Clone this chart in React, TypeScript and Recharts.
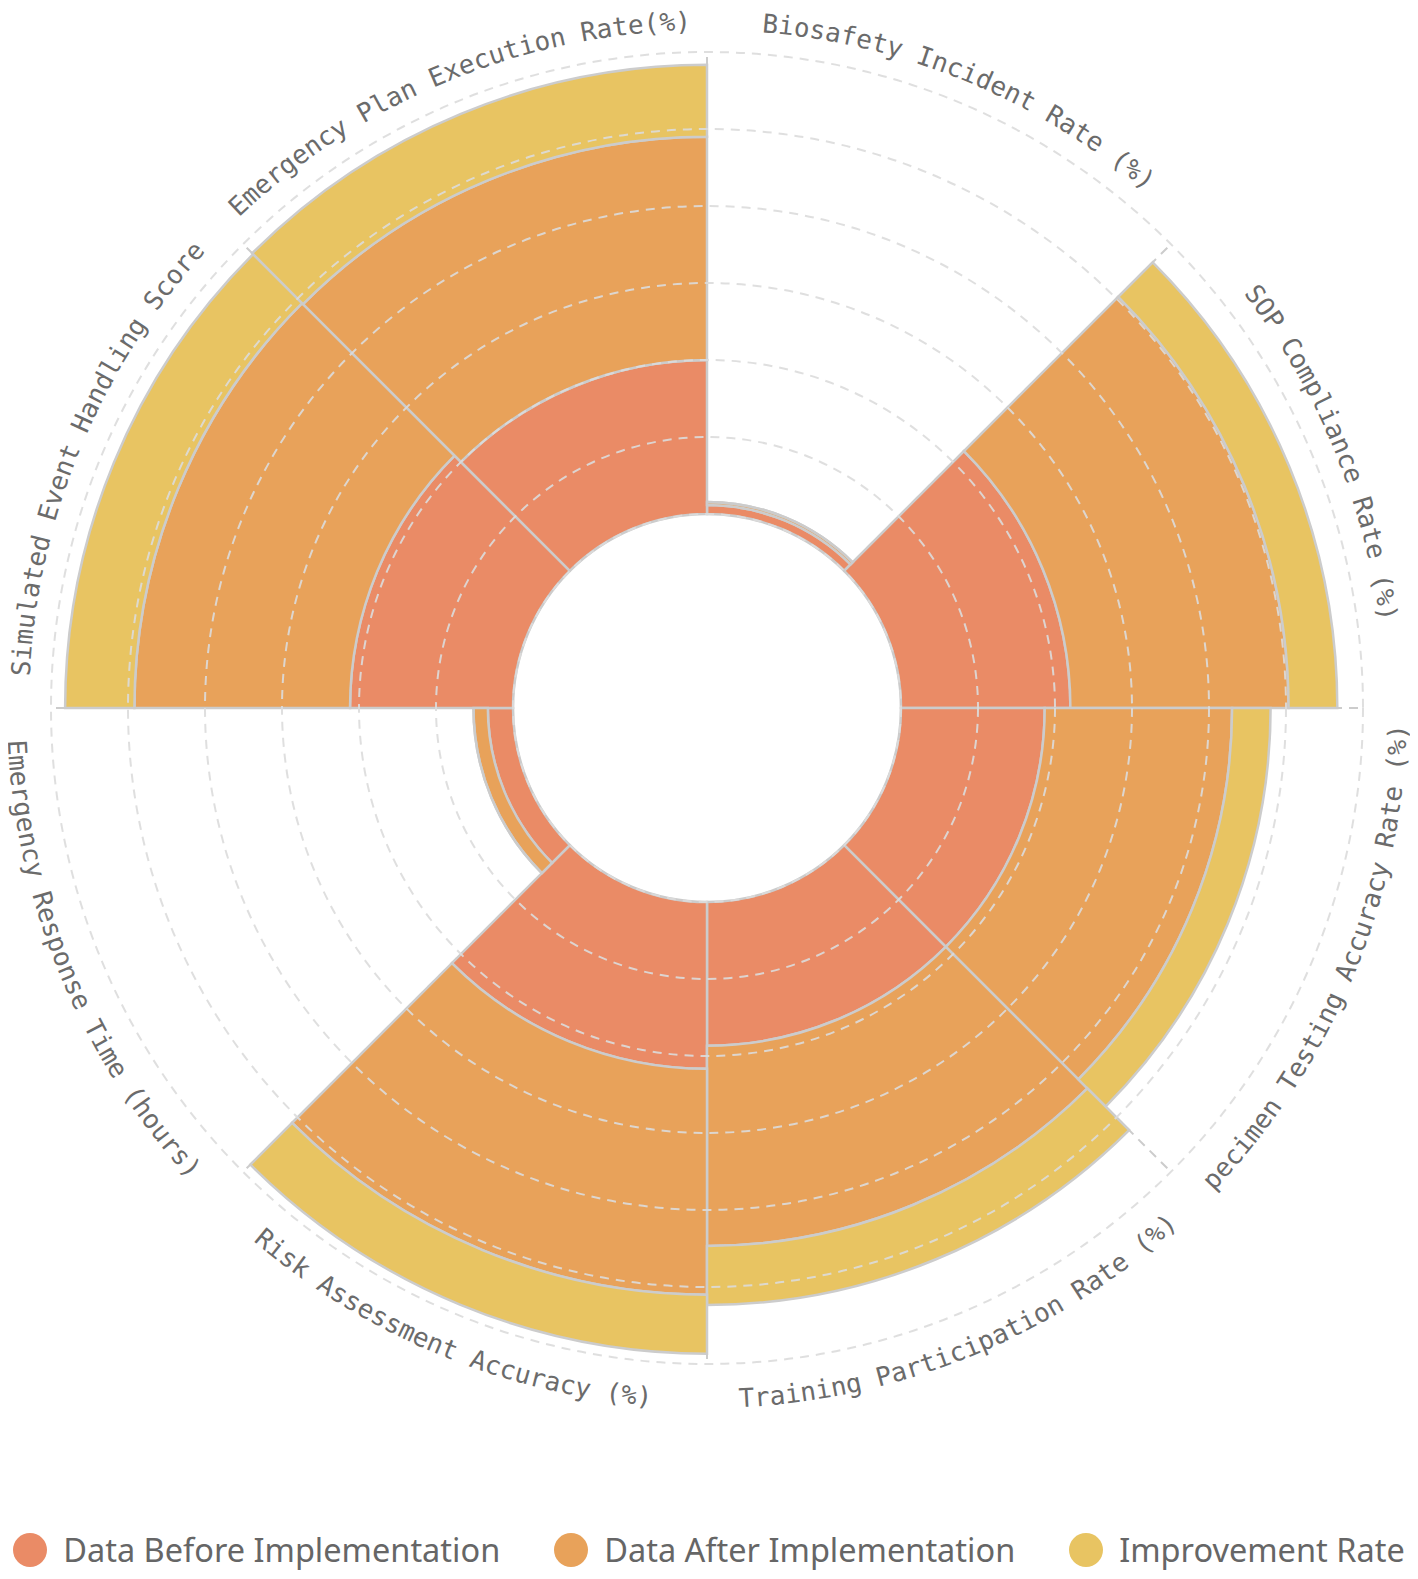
import React from 'react';
import {
  RadialBarChart,
  RadialBar,
  PolarAngleAxis,
  PolarRadiusAxis,
  PolarGrid,
  Legend,
} from 'recharts';

const categories = [
  'Biosafety Incident Rate (%)',
  'SOP Compliance Rate (%)',
  'pecimen Testing Accuracy Rate (%)',
  'Training Participation Rate (%)',
  'Risk Assessment Accuracy (%)',
  'Emergency Response Time (hours)',
  'Simulated Event Handling Score',
  'Emergency Plan Execution Rate(%)',
];
const beforeValues = [3.5, 66, 56, 56, 65, 9.8, 63.5, 60];
const afterValues = [1.2, 85, 73, 78, 88, 5.6, 84, 87];
const improvementValues = [0, 19, 15, 23, 23, 0, 27, 28];
const radiusDomain = [0, 180];
const seriesKeys = ['before', 'after', 'improvement'];
const seriesNames = ['Data Before Implementation', 'Data After Implementation', 'Improvement Rate'];
const seriesColors = ['#EA8B66', '#E8A25A', '#E8C462'];

const data = categories.map((name, i) => ({
  name,
  before: beforeValues[i],
  after: afterValues[i],
  improvement: improvementValues[i],
}));

const W = 1402;
const H = 1571;
const CX = 699;
const CY = 700;
const INNER = 194;
const OUTER = 656;

const boundaryAngles = categories.map((_, i) => 90 - (i * 360) / categories.length);

function arcPoint(cx: number, cy: number, r: number, deg: number) {
  const a = (deg * Math.PI) / 180;
  return [cx + r * Math.sin(a), cy - r * Math.cos(a)];
}

const AngleTick = (props: any) => {
  const value = props.payload?.value;
  const i = categories.indexOf(value);
  if (i < 0) return null;
  const cx = CX;
  const cy = CY;
  const mid = ((i + 0.5) * 360) / categories.length;
  const upper = mid < 90 || mid > 270;
  const r = upper ? 678 : 700;
  const span = 85;
  let d: string;
  if (upper) {
    const [x1, y1] = arcPoint(cx, cy, r, mid - span);
    const [x2, y2] = arcPoint(cx, cy, r, mid + span);
    d = `M${x1},${y1} A${r},${r} 0 0 1 ${x2},${y2}`;
  } else {
    const [x1, y1] = arcPoint(cx, cy, r, mid + span);
    const [x2, y2] = arcPoint(cx, cy, r, mid - span);
    d = `M${x1},${y1} A${r},${r} 0 0 0 ${x2},${y2}`;
  }
  const id = `angle-label-path-${i}`;
  return (
    <g>
      <defs>
        <path id={id} d={d} fill="none" />
      </defs>
      <text fontFamily="'DejaVu Sans Mono', monospace" fontSize={26} fill="#6b6b6b">
        <textPath href={`#${id}`} startOffset="50%" textAnchor="middle">
          {value}
        </textPath>
      </text>
    </g>
  );
};

const renderLegend = () => (
  <div
    style={{
      display: 'flex',
      justifyContent: 'center',
      alignItems: 'center',
      gap: 54,
      fontFamily: "'Noto Sans', sans-serif",
      fontSize: 32.5,
      color: '#666',
      whiteSpace: 'nowrap',
    }}
  >
    {seriesNames.map((n, i) => (
      <div key={n} style={{ display: 'flex', alignItems: 'center' }}>
        <span
          style={{
            display: 'inline-block',
            width: 34,
            height: 34,
            borderRadius: '50%',
            background: seriesColors[i],
            marginRight: 16,
          }}
        />
        <span>{n}</span>
      </div>
    ))}
  </div>
);

export default function App() {
  return (
    <div style={{ width: W, height: H, position: 'relative' }}>
      <RadialBarChart
        width={W}
        height={H}
        data={data}
        layout="centric"
        cx={CX}
        cy={CY}
        innerRadius={INNER}
        outerRadius={OUTER}
        startAngle={45}
        endAngle={-315}
        barCategoryGap={0}
        barGap={0}
        margin={{ top: 0, right: 0, bottom: 0, left: 0 }}
      >
        <PolarGrid
          gridType="circle"
          radialLines={true}
          polarRadius={[]}
          polarAngles={boundaryAngles}
          stroke="#cccccc"
          strokeWidth={2}
          strokeDasharray="9 7"
        />
        <PolarAngleAxis
          type="category"
          dataKey="name"
          axisLine={false}
          tickLine={false}
          tick={AngleTick}
        />
        <PolarRadiusAxis
          type="number"
          domain={radiusDomain}
          tickCount={7}
          axisLine={false}
          tick={false}
          tickLine={false}
        />
        {seriesKeys.map((k, i) => (
          <RadialBar
            key={k}
            dataKey={k}
            name={seriesNames[i]}
            stackId="total"
            fill={seriesColors[i]}
            stroke="#cccccc"
            strokeWidth={2.5}
            isAnimationActive={false}
          />
        ))}
        <PolarGrid
          gridType="circle"
          radialLines={false}
          stroke="#dcdcdc"
          strokeOpacity={0.9}
          strokeWidth={2}
          strokeDasharray="9 7"
          zIndex={1500}
        />
        <Legend
          content={renderLegend}
          wrapperStyle={{ position: 'absolute', left: 0, top: 1519, bottom: 'auto', width: W }}
        />
      </RadialBarChart>
    </div>
  );
}
